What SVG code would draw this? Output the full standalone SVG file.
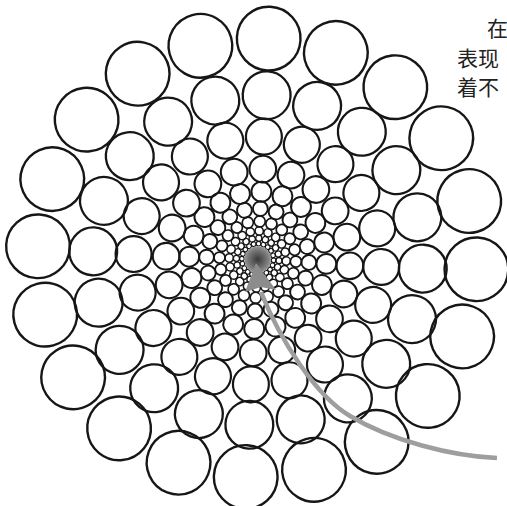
<svg xmlns="http://www.w3.org/2000/svg" width="507" height="506" viewBox="0 0 507 506">
<style>
.cir{fill:none;stroke:#161616}
.txt{font-family:"Noto Sans CJK SC","Noto Sans CJK JP",sans-serif;font-size:21px;fill:#222}
.shaft{fill:none;stroke:#9e9e9e;stroke-width:4.5}
.head{fill:#8c8c8c}
</style>
<defs>
<circle id="c" class="cir" cx="1" cy="0" r="0.145"/>
<g id="ring">
<use href="#c" transform="rotate(3)"/><use href="#c" transform="rotate(21)"/><use href="#c" transform="rotate(39)"/><use href="#c" transform="rotate(57)"/><use href="#c" transform="rotate(75)"/>
<use href="#c" transform="rotate(93)"/><use href="#c" transform="rotate(111)"/><use href="#c" transform="rotate(129)"/><use href="#c" transform="rotate(147)"/><use href="#c" transform="rotate(165)"/>
<use href="#c" transform="rotate(183)"/><use href="#c" transform="rotate(201)"/><use href="#c" transform="rotate(219)"/><use href="#c" transform="rotate(237)"/><use href="#c" transform="rotate(255)"/>
<use href="#c" transform="rotate(273)"/><use href="#c" transform="rotate(291)"/><use href="#c" transform="rotate(309)"/><use href="#c" transform="rotate(327)"/><use href="#c" transform="rotate(345)"/>
</g>
<radialGradient id="cg">
<stop offset="0" stop-color="#3a3a3a"/>
<stop offset="0.7" stop-color="#767676"/>
<stop offset="1" stop-color="#969696"/>
</radialGradient>
</defs>
<rect width="507" height="506" fill="#fff"/>
<g id="spiral">
<use id="ring0" href="#ring" transform="translate(257.2,257.8) scale(219.5)" stroke-width="0.01093"/>
<use id="ring1" href="#ring" transform="translate(258,260) scale(165)" stroke-width="0.01394"/>
<use id="ring2" href="#ring" transform="translate(257.4,260.5) scale(124)" stroke-width="0.01774"/>
<use id="ring3" href="#ring" transform="translate(258,261) scale(92)" stroke-width="0.02283"/>
<use id="ring4" href="#ring" transform="translate(257.8,260.3) scale(68.66)" stroke-width="0.02913"/>
<use id="ring5" href="#ring" transform="translate(257.7,259.8) scale(51.24)" stroke-width="0.03708"/>
<use id="ring6" href="#ring" transform="translate(257.7,259.6) scale(38.24)" stroke-width="0.04446"/>
<use id="ring7" href="#ring" transform="translate(257.7,259.5) scale(28.54)" stroke-width="0.05256"/>
<use id="ring8" href="#ring" transform="translate(257.7,259.5) scale(21.3)" stroke-width="0.06103"/>
<use id="ring9" href="#ring" transform="translate(257.7,259.5) scale(15.89)" stroke-width="0.06923"/>
<circle id="core" cx="257.7" cy="259.5" r="13.3" fill="url(#cg)"/>
</g>
<g id="arrow">
<path class="shaft" d="M497,458 C450,456 390,440 350,416 C316,396 280,340 261,292"/>
<polygon class="head" points="256,263 276,290 261,287 245,292"/>
</g>
<g id="text" class="txt">
<text x="487" y="36">在</text>
<text x="457" y="66">表现</text>
<text x="457" y="95">着不</text>
</g>
</svg>
